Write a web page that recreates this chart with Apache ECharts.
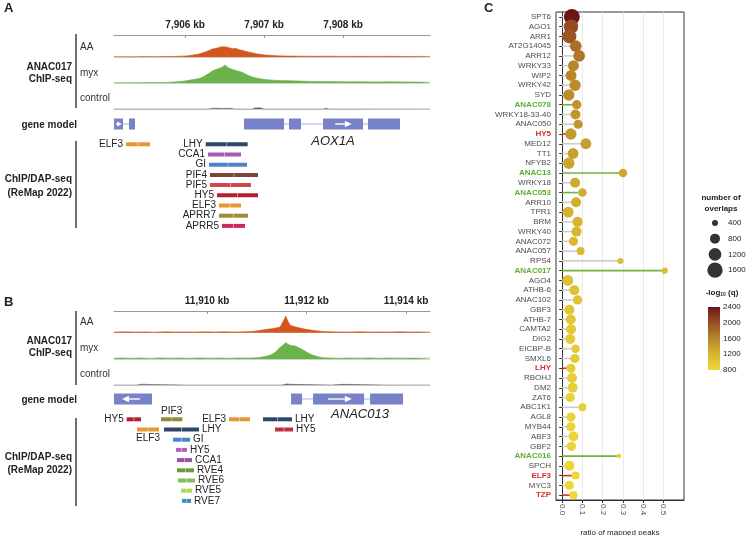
<!DOCTYPE html>
<html><head><meta charset="utf-8">
<script src="https://cdn.jsdelivr.net/npm/echarts@6/dist/echarts.min.js"></script>
<style>html,body{margin:0;padding:0;background:#fff}#c{width:747px;height:535px}</style>
</head><body><div id="c"></div>
<script>
// ================= DATA =================
// Panel A top-axis ticks (kb) and Panel B top-axis ticks (kb)
const ticksA = [7906, 7907, 7908];
const ticksB = [11910, 11912, 11914];

// Panel A coverage tracks: [position kb, signal]
const covA_AA = [[7905.100,0.5],[7905.239,0.6],[7905.366,0.5],[7905.492,0.7],[7905.619,0.6],[7905.746,0.8],[7905.847,0.8],[7905.935,1.1],[7906.024,1.4],[7906.100,2.2],[7906.163,3.0],[7906.214,4.2],[7906.265,5.6],[7906.303,6.8],[7906.341,8.2],[7906.380,8.8],[7906.418,9.5],[7906.442,9.2],[7906.468,10.6],[7906.492,11.3],[7906.518,10.4],[7906.543,10.8],[7906.568,9.4],[7906.606,8.6],[7906.644,8.9],[7906.682,7.6],[7906.720,7.0],[7906.758,6.2],[7906.796,5.4],[7906.847,4.6],[7906.897,3.6],[7906.948,3.0],[7907.011,2.4],[7907.075,2.0],[7907.151,1.6],[7907.239,1.4],[7907.353,1.2],[7907.454,1.1],[7907.644,1.0],[7907.834,1.1],[7908.024,0.9],[7908.214,1.0],[7908.404,0.9],[7908.594,1.0],[7908.784,0.8],[7908.973,0.9],[7909.100,0.8]];
const covA_myx = [[7905.100,0.5],[7905.303,0.6],[7905.492,0.7],[7905.682,0.8],[7905.809,1.0],[7905.910,1.6],[7905.999,2.4],[7906.062,3.2],[7906.126,4.0],[7906.189,5.0],[7906.227,6.4],[7906.265,8.2],[7906.303,10.0],[7906.341,12.2],[7906.380,13.5],[7906.418,14.6],[7906.442,15.2],[7906.468,16.0],[7906.492,17.2],[7906.506,18.3],[7906.530,16.4],[7906.556,15.0],[7906.581,15.6],[7906.606,13.8],[7906.644,12.8],[7906.682,12.0],[7906.720,11.0],[7906.758,9.6],[7906.796,8.0],[7906.834,6.8],[7906.885,5.6],[7906.948,4.6],[7907.011,3.8],[7907.075,3.3],[7907.201,2.8],[7907.328,2.6],[7907.454,2.2],[7907.644,1.8],[7907.834,1.7],[7908.024,1.5],[7908.214,1.6],[7908.404,1.4],[7908.594,1.5],[7908.784,1.3],[7908.973,1.2],[7909.100,1.0]];
const covA_ctrl = [[7905.100,0.2],[7906.300,0.2],[7906.340,0.9],[7906.400,1.1],[7906.480,0.8],[7906.580,1.0],[7906.620,0.2],[7906.850,0.2],[7906.880,1.2],[7906.950,1.5],[7907.000,0.2],[7907.750,0.2],[7907.780,1.0],[7907.820,0.2],[7908.150,0.2],[7908.170,1.0],[7908.200,0.2],[7909.100,0.2]];

// Panel B coverage tracks
const covB_AA = [[11908.130,0.6],[11908.351,0.9],[11908.552,0.6],[11908.753,0.8],[11908.954,0.5],[11909.155,0.9],[11909.356,0.7],[11909.557,0.8],[11909.758,0.6],[11909.959,0.9],[11910.160,0.7],[11910.361,0.9],[11910.562,0.7],[11910.763,1.0],[11910.904,1.3],[11911.004,1.8],[11911.105,2.6],[11911.205,3.4],[11911.306,4.0],[11911.406,5.0],[11911.467,5.6],[11911.507,7.6],[11911.547,13.0],[11911.581,16.7],[11911.607,13.6],[11911.638,10.2],[11911.668,7.8],[11911.728,6.4],[11911.808,5.4],[11911.889,4.4],[11911.989,3.4],[11912.090,2.6],[11912.210,1.8],[11912.331,1.3],[11912.472,1.0],[11912.673,0.8],[11912.874,0.6],[11913.075,0.9],[11913.276,0.7],[11913.477,0.8],[11913.678,0.6],[11913.879,0.9],[11914.080,0.7],[11914.281,0.8],[11914.482,0.6]];
const covB_myx = [[11908.130,1.0],[11908.291,1.4],[11908.452,1.0],[11908.653,1.3],[11908.854,0.9],[11909.055,1.4],[11909.256,1.1],[11909.457,1.3],[11909.658,1.0],[11909.859,1.4],[11910.060,1.1],[11910.261,1.3],[11910.462,1.0],[11910.663,1.3],[11910.864,1.2],[11911.004,1.6],[11911.105,2.2],[11911.205,3.3],[11911.286,4.6],[11911.346,6.2],[11911.406,8.6],[11911.447,11.0],[11911.487,12.0],[11911.527,14.3],[11911.567,15.2],[11911.587,16.7],[11911.628,14.8],[11911.668,15.6],[11911.708,13.6],[11911.768,13.3],[11911.829,12.0],[11911.869,11.0],[11911.929,9.2],[11911.989,7.6],[11912.070,5.3],[11912.150,3.8],[11912.231,2.6],[11912.331,1.6],[11912.472,1.3],[11912.673,1.0],[11912.874,1.3],[11913.075,1.1],[11913.276,1.4],[11913.477,1.0],[11913.678,1.3],[11913.879,1.1],[11914.080,1.2],[11914.281,1.0],[11914.482,1.2]];
const covB_ctrl = [[11908.130,0.2],[11908.580,0.2],[11908.610,0.9],[11908.700,1.1],[11908.850,0.8],[11908.880,0.2],[11909.570,0.2],[11909.600,1.0],[11909.630,0.2],[11911.500,0.2],[11911.530,1.2],[11911.600,1.4],[11911.670,1.0],[11911.700,0.2],[11912.500,0.2],[11912.530,0.9],[11912.730,1.0],[11912.760,0.2],[11913.600,0.2],[11913.620,0.9],[11913.650,0.2],[11914.482,0.2]];

// Gene models: exons [start, end], introns [start, end], strand arrows [from, to] (kb)
const exonsA = [[7905.100,7905.214],[7905.290,7905.366],[7906.746,7907.252],[7907.315,7907.467],[7907.746,7908.252],[7908.315,7908.720]];
const intronsA = [[7905.214,7905.290],[7907.252,7907.315],[7907.467,7907.746],[7908.252,7908.315]];
const arrowsA = [[7905.125,7905.200],[7907.900,7908.110]];
const exonsB = [[11908.130,11908.894],[11911.688,11911.909],[11912.130,11913.155],[11913.276,11913.939]];
const intronsB = [[11911.909,11912.130],[11913.155,11913.276]];
const arrowsB = [[11908.650,11908.290],[11912.430,11912.910]];

// ReMap peaks, panel A
const chipA_names = ['ELF3','LHY','CCA1','GI','PIF4','PIF5','HY5','ELF3','APRR7','APRR5'];
const chipA_start = [7905.252,7906.261,7906.290,7906.303,7906.315,7906.315,7906.404,7906.429,7906.429,7906.467];
const chipA_end   = [7905.556,7906.792,7906.708,7906.784,7906.923,7906.834,7906.923,7906.708,7906.796,7906.758];
const chipA_row   = [0,0,1,2,3,4,5,6,7,8];
// ReMap peaks, panel B
const chipB_names = ['HY5','PIF3','ELF3','LHY','ELF3','LHY','HY5','GI','HY5','CCA1','RVE4','RVE6','RVE5','RVE7'];
const chipB_start = [11908.385,11909.075,11910.442,11911.125,11908.592,11909.135,11911.366,11909.316,11909.376,11909.396,11909.396,11909.416,11909.477,11909.497];
const chipB_end   = [11908.673,11909.503,11910.864,11911.708,11909.035,11909.839,11911.728,11909.658,11909.597,11909.698,11909.738,11909.758,11909.698,11909.678];
const chipB_row   = [0,0,0,0,1,1,1,2,3,4,5,6,7,8];

// Panel C
const categories = ['SPT6','AGO1','ARR1','AT2G14045','ARR12','WRKY33','WIP2','WRKY42','SYD','ANAC078','WRKY18-33-40','ANAC050','HY5','MED12','TT1','NFYB2','ANAC13','WRKY18','ANAC053','ARR10','TPR1','BRM','WRKY40','ANAC072','ANAC057','RPS4','ANAC017','AGO4','ATHB-6','ANAC102','GBF3','ATHB-7','CAMTA2','DIG2','EICBP-B','SMXL6','LHY','RBOHJ','DM2','ZAT6','ABC1K1','AGL8','MYB44','ABF3','GBF2','ANAC016','SPCH','ELF3','MYC3','TZP'];
const ratioMapped = [0.048,0.044,0.036,0.067,0.084,0.056,0.044,0.064,0.033,0.072, 0.066,0.079,0.043,0.117,0.054,0.033,0.300,0.064,0.100,0.069, 0.030,0.076,0.071,0.056,0.091,0.287,0.505,0.028,0.060,0.076, 0.036,0.043,0.044,0.040,0.066,0.063,0.043,0.049,0.052,0.040, 0.100,0.044,0.043,0.056,0.046,0.280,0.036,0.066,0.036,0.056];
const overlaps = [1700,1450,1400,1050,1050,930,930,1000,1000,720, 800,720,1000,930,930,1000,650,800,650,800, 930,800,800,720,600,400,420,930,800,720, 800,800,800,800,650,720,720,800,800,720, 600,720,720,800,720,270,800,600,720,650];
const negLog10q = [2400,2020,1950,1760,1700,1600,1580,1560,1540,1480, 1460,1440,1420,1400,1370,1350,1320,1290,1270,1250, 1230,1200,1180,1160,1140,1120,1100,1080,1060,1040, 1020,1000,985,970,955,940,925,910,900,890, 880,870,860,850,842,835,825,818,810,805];
const nacGroup = ['ANAC078','ANAC13','ANAC053','ANAC017','ANAC016'];
const clockGroup = ['HY5','LHY','ELF3','TZP'];
const ratioTicks = [0, 0.1, 0.2, 0.3, 0.4, 0.5];
const sizeLegendValues = [400, 800, 1200, 1600];
const colorLegendTicks = [2400, 2000, 1600, 1200, 800];

// ================= STYLE =================
const FONT = '"Liberation Sans", Arial, Helvetica, sans-serif';
const COL_AA = '#D2561E', COL_MYX = '#6CB24B', COL_CTRL = '#666666';
const GENE_COL = '#7882C8', INTRON_COL = '#A9B0DE';
const GREEN = '#5DAE2F', RED = '#D2322D';
const chipA_colors = ['#E8962E','#2F4668','#A25CB2','#4C82C6','#7A4636','#D4474E','#B3202C','#E8962E','#9C8F35','#D0285C'];
const chipA_sides  = ['left','left','left','left','left','left','left','left','left','left'];
const chipB_colors = ['#B3202C','#8C8B3C','#E8962E','#2F4668','#E8962E','#2F4668','#C0303A','#4C82C6','#B462B8','#9A52A8','#6A9B3C','#80C062','#B2D65A','#3B8DB5'];
const chipB_sides  = ['left','top','left','right','bottom','right','right','right','right','right','right','right','right','right'];
const qColors = ['#EDD83A','#D6B530','#B8852A','#984E22','#6B1717'];
const sizeKnots = [[0,2],[400,6],[800,10],[1200,12.7],[1600,15.3],[2000,17.5]];
function sizeOf(n){
  for (let i=1;i<sizeKnots.length;i++){
    if (n <= sizeKnots[i][0]){
      const a=sizeKnots[i-1], b=sizeKnots[i];
      return a[1] + (b[1]-a[1])*(n-a[0])/(b[0]-a[0]);
    }
  }
  return sizeKnots[sizeKnots.length-1][1];
}
const kbFmt = v => String(Math.round(v)).replace(/\B(?=(\d{3})+(?!\d))/g, ',') + ' kb';

// ================= BUILD =================
const L = 114, W = 316;
const extA = [7905.1, 7909.1], extB = [11908.13, 11914.48];
const gridBase = {containLabel:false, outerBoundsMode:'none'};
const grids = [
  {left:L,width:W,top:34,height:1},        //0 A axis
  {left:L,width:W,top:37.3,height:20},     //1 A AA
  {left:L,width:W,top:63.3,height:20},     //2 A myx
  {left:L,width:W,top:89.3,height:20},     //3 A control
  {left:L,width:W,top:117,height:14},      //4 A gene
  {left:L,width:W,top:139.2,height:91.8},  //5 A chip
  {left:L,width:W,top:310,height:1},       //6 B axis
  {left:L,width:W,top:312.7,height:20},    //7 B AA
  {left:L,width:W,top:339.3,height:20},    //8 B myx
  {left:L,width:W,top:365.3,height:20},    //9 B control
  {left:L,width:W,top:392,height:14},      //10 B gene
  {left:L,width:W,top:414.2,height:91.8},  //11 B chip
  {left:556,width:128,top:12,height:488,show:true,borderColor:'#333',borderWidth:1,backgroundColor:'#fff'}, //12 C
  {left:707,width:16,top:215,height:63}    //13 size legend
].map(g => Object.assign({}, gridBase, g));

function topAxis(gi, ext, ticks){
  return {type:'value', gridIndex:gi, min:ext[0], max:ext[1], position:'top',
    axisLine:{show:true, lineStyle:{color:'#9a9a9a', width:1}},
    axisTick:{show:true, inside:true, length:3, customValues:ticks, lineStyle:{color:'#9a9a9a'}},
    axisLabel:{show:true, customValues:ticks, formatter:kbFmt, fontFamily:FONT, fontSize:10, fontWeight:'bold', color:'#222', margin:4},
    splitLine:{show:false}};
}
function trackAxis(gi, ext, line){
  return {type:'value', gridIndex:gi, min:ext[0], max:ext[1],
    axisLine:{show:line, onZero:false, lineStyle:{color:'#d3d3d3', width:0.8}},
    axisTick:{show:false}, axisLabel:{show:false}, splitLine:{show:false}};
}
const xAxes = [
  topAxis(0, extA, ticksA), trackAxis(1, extA, true), trackAxis(2, extA, true), trackAxis(3, extA, true), trackAxis(4, extA, false), trackAxis(5, extA, false),
  topAxis(6, extB, ticksB), trackAxis(7, extB, true), trackAxis(8, extB, true), trackAxis(9, extB, true), trackAxis(10, extB, false), trackAxis(11, extB, false),
  {type:'value', gridIndex:12, min:-0.03, max:0.6,
    axisLine:{show:true, onZero:false, lineStyle:{color:'#333', width:1}},
    axisTick:{show:true, length:3, customValues:ratioTicks, lineStyle:{color:'#333'}},
    axisLabel:{show:true, customValues:ratioTicks, rotate:-90, formatter:v => Number(v).toFixed(1), fontFamily:FONT, fontSize:8, color:'#4d4d4d', margin:4},
    splitLine:{show:true, lineStyle:{color:'#e4e4e4', width:0.8}},
    name:'ratio of mapped peaks', nameLocation:'middle', nameGap:29, nameTextStyle:{fontFamily:FONT, fontSize:8, color:'#222'}},
  {type:'value', gridIndex:13, min:0, max:2, show:false}
];
const hidY = (gi, mn, mx, inv) => ({type:'value', gridIndex:gi, min:mn, max:mx, inverse:!!inv, show:false});
const yAxes = [
  hidY(0,0,1), hidY(1,0,20), hidY(2,0,20), hidY(3,0,20), hidY(4,-1,1), hidY(5,-0.5,8.5,true),
  hidY(6,0,1), hidY(7,0,20), hidY(8,0,20), hidY(9,0,20), hidY(10,-1,1), hidY(11,-0.5,8.5,true),
  {type:'category', gridIndex:12, data:categories, inverse:true,
    axisLine:{show:true, lineStyle:{color:'#333', width:1}},
    axisTick:{show:true, alignWithLabel:true, length:3, lineStyle:{color:'#333'}},
    axisLabel:{show:true, interval:0, fontFamily:FONT, fontSize:8, color:'#4d4d4d', margin:5,
      formatter:(v) => nacGroup.includes(v) ? '{g|'+v+'}' : (clockGroup.includes(v) ? '{r|'+v+'}' : v),
      rich:{g:{color:GREEN, fontWeight:'bold', fontSize:8, fontFamily:FONT}, r:{color:RED, fontWeight:'bold', fontSize:8, fontFamily:FONT}}},
    splitLine:{show:false}},
  {type:'category', gridIndex:13, data:sizeLegendValues.map(String), inverse:true, position:'right',
    axisLine:{show:false}, axisTick:{show:false},
    axisLabel:{show:true, fontFamily:FONT, fontSize:8, color:'#222', margin:5}}
];

function track(ai, data, color){
  return {type:'line', xAxisIndex:ai, yAxisIndex:ai, data:data, showSymbol:false, symbol:'none', smooth:false,
    lineStyle:{width:0.6, color:color}, itemStyle:{color:color}, areaStyle:{color:color, opacity:1}, silent:true, z:3};
}
function exonSeries(ai, exons){
  return {type:'custom', xAxisIndex:ai, yAxisIndex:ai, data:exons, silent:true, z:4,
    renderItem:(p, api) => {
      const a = api.coord([api.value(0), 0]), b = api.coord([api.value(1), 0]);
      return {type:'rect', shape:{x:a[0], y:a[1]-5.5, width:b[0]-a[0], height:11}, style:{fill:GENE_COL}};
    }};
}
function intronSeries(ai, introns){
  return {type:'custom', xAxisIndex:ai, yAxisIndex:ai, data:introns, silent:true, z:3,
    renderItem:(p, api) => {
      const a = api.coord([api.value(0), 0]), b = api.coord([api.value(1), 0]);
      return {type:'line', shape:{x1:a[0], y1:a[1], x2:b[0], y2:b[1]}, style:{stroke:INTRON_COL, lineWidth:1}};
    }};
}
function arrowSeries(ai, arrows){
  return {type:'custom', xAxisIndex:ai, yAxisIndex:ai, data:arrows, silent:true, z:5,
    renderItem:(p, api) => {
      const a = api.coord([api.value(0), 0]), b = api.coord([api.value(1), 0]);
      const dir = b[0] > a[0] ? 1 : -1;
      const len = Math.abs(b[0]-a[0]);
      const head = Math.min(7, len*0.8);
      const hh = head < 6 ? 2.5 : 3.2;
      return {type:'group', children:[
        {type:'line', shape:{x1:a[0], y1:a[1], x2:b[0]-dir*head, y2:b[1]}, style:{stroke:'#fff', lineWidth:1.4}},
        {type:'polygon', shape:{points:[[b[0], b[1]], [b[0]-dir*head, b[1]-hh], [b[0]-dir*head, b[1]+hh]]}, style:{fill:'#fff'}}
      ]};
    }};
}
function chipSeries(ai, names, starts, ends, rows, colors, sides){
  const data = names.map((n,i) => [starts[i], ends[i], rows[i]]);
  return {type:'custom', xAxisIndex:ai, yAxisIndex:ai, data:data, silent:true, z:5,
    encode:{x:[0,1], y:2},
    renderItem:(p, api) => {
      const i = p.dataIndex;
      const a = api.coord([api.value(0), api.value(2)]), b = api.coord([api.value(1), api.value(2)]);
      const y = a[1], mid = (a[0]+b[0])/2;
      let tx, ty, al, va;
      const side = sides[i];
      if (side === 'left'){ tx=a[0]-3; ty=y; al='right'; va='middle'; }
      else if (side === 'right'){ tx=b[0]+3; ty=y; al='left'; va='middle'; }
      else if (side === 'top'){ tx=mid; ty=y-3; al='center'; va='bottom'; }
      else { tx=mid; ty=y+4; al='center'; va='top'; }
      return {type:'group', children:[
        {type:'rect', shape:{x:a[0], y:y-2, width:b[0]-a[0], height:4}, style:{fill:colors[i]}},
        {type:'line', shape:{x1:mid, y1:y-2.5, x2:mid, y2:y+2.5}, style:{stroke:'rgba(255,255,255,0.45)', lineWidth:1}},
        {type:'text', style:{text:names[i], x:tx, y:ty, align:al, verticalAlign:va, fontFamily:FONT, fontSize:10, fill:'#222'}}
      ]};
    }};
}

const series = [
  track(1, covA_AA, COL_AA), track(2, covA_myx, COL_MYX), track(3, covA_ctrl, COL_CTRL),
  intronSeries(4, intronsA), exonSeries(4, exonsA), arrowSeries(4, arrowsA),
  chipSeries(5, chipA_names, chipA_start, chipA_end, chipA_row, chipA_colors, chipA_sides),
  track(7, covB_AA, COL_AA), track(8, covB_myx, COL_MYX), track(9, covB_ctrl, COL_CTRL),
  intronSeries(10, intronsB), exonSeries(10, exonsB), arrowSeries(10, arrowsB),
  chipSeries(11, chipB_names, chipB_start, chipB_end, chipB_row, chipB_colors, chipB_sides),
  {type:'bar', xAxisIndex:12, yAxisIndex:12, barWidth:1.6, silent:true, z:3,
    data: ratioMapped.map((v,i) => ({value:v, itemStyle:{color: nacGroup.includes(categories[i]) ? '#6DB33F' : (clockGroup.includes(categories[i]) ? RED : '#CDCDCD')}}))},
  {type:'scatter', xAxisIndex:12, yAxisIndex:12, silent:true, z:4,
    data: categories.map((c,i) => [ratioMapped[i], i, negLog10q[i], overlaps[i]]),
    encode:{x:0, y:1},
    symbolSize: v => sizeOf(v[3]), itemStyle:{opacity:1}},
  {type:'scatter', xAxisIndex:13, yAxisIndex:13, silent:true,
    data: sizeLegendValues.map((v,i) => [1, i, v]), encode:{x:0, y:1},
    symbolSize: v => sizeOf(v[2]), itemStyle:{color:'#000'}}
];
const scatterIdx = series.length - 2;

// ---------- graphic (annotations) ----------
function txt(x, y, text, o){
  o = o || {};
  return {type:'text', x:x, y:y, silent:true, z:10, style:Object.assign({text:text, fontFamily:FONT, fontSize:10, fill:'#222', align:'left', verticalAlign:'middle'}, o)};
}
function vline(x, y1, y2){
  return {type:'line', silent:true, shape:{x1:x, y1:y1, x2:x, y2:y2}, style:{stroke:'#222', lineWidth:1.3}};
}
const B = {fontWeight:'bold'};
const R = {align:'right'};
const barTop = 307, barH = 63;
const graphics = [
  txt(4, 8, 'A', {fontWeight:'bold', fontSize:13}),
  txt(72, 67, 'ANAC017', Object.assign({}, B, R)), txt(72, 79, 'ChIP-seq', Object.assign({}, B, R)),
  txt(80, 47, 'AA', {fill:'#333'}), txt(80, 73, 'myx', {fill:'#333'}), txt(80, 98, 'control', {fill:'#333'}),
  vline(76, 34, 108),
  txt(77, 125, 'gene model', Object.assign({}, B, R)),
  txt(333, 141, 'AOX1A', {fontStyle:'italic', fontSize:13, align:'center'}),
  txt(72, 179, 'ChIP/DAP-seq', Object.assign({}, B, R)), txt(72, 193, '(ReMap 2022)', Object.assign({}, B, R)),
  vline(76, 141, 228),

  txt(4, 302, 'B', {fontWeight:'bold', fontSize:13}),
  txt(72, 341, 'ANAC017', Object.assign({}, B, R)), txt(72, 353, 'ChIP-seq', Object.assign({}, B, R)),
  txt(80, 322, 'AA', {fill:'#333'}), txt(80, 348, 'myx', {fill:'#333'}), txt(80, 374, 'control', {fill:'#333'}),
  vline(76, 311, 385),
  txt(77, 400, 'gene model', Object.assign({}, B, R)),
  txt(360, 414, 'ANAC013', {fontStyle:'italic', fontSize:13, align:'center'}),
  txt(72, 457, 'ChIP/DAP-seq', Object.assign({}, B, R)), txt(72, 470, '(ReMap 2022)', Object.assign({}, B, R)),
  vline(76, 418, 506),

  txt(484, 8, 'C', {fontWeight:'bold', fontSize:13}),
  txt(721, 198, 'number of', {fontWeight:'bold', fontSize:8, align:'center'}),
  txt(721, 209, 'overlaps', {fontWeight:'bold', fontSize:8, align:'center'}),
  {type:'text', x:722, y:293, silent:true, style:{text:'{a|-log}{s|10}{a| (q)}', align:'center', verticalAlign:'middle',
    rich:{a:{fontFamily:FONT, fontSize:8, fontWeight:'bold', fill:'#222'}, s:{fontFamily:FONT, fontSize:5, fontWeight:'bold', fill:'#222', padding:[4,0,0,0]}}}},
  {type:'rect', silent:true, shape:{x:708, y:barTop, width:12, height:barH},
    style:{fill:{type:'linear', x:0, y:0, x2:0, y2:1, colorStops:[
      {offset:0, color:qColors[4]}, {offset:0.25, color:qColors[3]}, {offset:0.5, color:qColors[2]}, {offset:0.75, color:qColors[1]}, {offset:1, color:qColors[0]}]}}}
].concat(colorLegendTicks.map(v => txt(723, barTop + (2400 - v)/1600*barH, String(v), {fontSize:8})));

const chart = echarts.init(document.getElementById('c'), null, {renderer:'canvas'});
chart.setOption({
  animation:false,
  backgroundColor:'#fff',
  textStyle:{fontFamily:FONT},
  grid:grids, xAxis:xAxes, yAxis:yAxes,
  visualMap:[{type:'continuous', show:false, min:800, max:2400, dimension:2, seriesIndex:scatterIdx, inRange:{color:qColors}}],
  series:series,
  graphic:{elements:graphics}
});
</script></body></html>
